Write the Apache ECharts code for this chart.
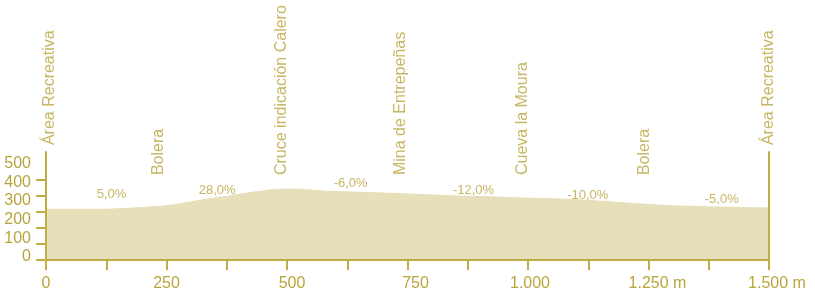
<!DOCTYPE html>
<html><head><meta charset="utf-8">
<script src="https://cdn.jsdelivr.net/npm/echarts@6/dist/echarts.min.js"></script>
<style>html,body{margin:0;padding:0;background:#fff}#c{width:815px;height:297px}</style>
</head><body><div id="c"></div>
<script>
// Profile (distance in m, elevation in m)
const distances  = [0, 104, 172, 207, 243, 276, 311, 347, 380, 415, 451, 483, 508, 575, 645, 714, 782, 853, 921, 1004, 1073, 1143, 1212, 1280, 1351, 1419, 1500];
const elevations = [314, 314, 321, 327, 335, 347, 366, 383, 397, 414, 428, 439, 440, 428, 420, 414, 405, 397, 391, 383, 377, 366, 352, 339, 331, 327, 322];

// Slope labels
const slopeLabels = ['5,0%', '28,0%', '-6,0%', '-12,0%', '-10,0%', '-5,0%'];
const slopeDist   = [136, 355, 632, 887, 1124, 1402];
const slopeElev   = [408, 434, 473, 429, 401, 378];

// Waypoints
const placeNames = ['Área Recreativa', 'Bolera', 'Cruce indicación Calero', 'Mina de Entrepeñas', 'Cueva la Moura', 'Bolera', 'Área Recreativa'];
const placeDist  = [7, 233, 488, 735, 988, 1241, 1500];
const placeElev  = [713, 527, 527, 527, 527, 527, 713];

// Axis ticks
const xTickStep = 125;
const xLabelStep = 250;
const yTickValues = [0, 100, 200, 300, 400, 500];

const AXIS = '#c1ab45';
const TEXT = '#b9a43c';
const FILL = '#e6dfb9';
const FONT = '"Liberation Sans", Arial, Helvetica, sans-serif';

function fmtDist(v) {
  if (v >= 1000) return Math.floor(v / 1000) + '.' + String(v % 1000).padStart(3, '0');
  return String(v);
}
// small horizontal nudges for x labels (style only)
const xNudge = {0: 0, 250: 0, 500: 10, 750: 16, 1000: 4, 1250: 18, 1500: 16};
const xRich = {};
Object.keys(xNudge).forEach(k => {
  xRich['n' + k] = {color: TEXT, fontSize: 16, fontFamily: FONT, padding: [0, 0, 0, xNudge[k]]};
});

const chart = echarts.init(document.getElementById('c'), null, {renderer: 'canvas'});
chart.setOption({
  animation: false,
  grid: [
    {left: 46, right: 46, top: 152, bottom: 37},
    {left: 46, right: 46, top: 164, bottom: 40.3}
  ],
  xAxis: [
    {
      gridIndex: 0, type: 'value', min: 0, max: 1500, interval: xTickStep, z: 3,
      axisLine: {show: true, lineStyle: {color: AXIS, width: 2}},
      axisTick: {show: true, length: 10, lineStyle: {color: AXIS, width: 2}},
      splitLine: {show: false},
      axisLabel: {
        margin: 16, color: TEXT, fontSize: 16, fontFamily: FONT,
        formatter: v => {
          if (v % xLabelStep !== 0) return '';
          const t = fmtDist(v) + (v >= 1250 ? ' m' : '');
          return '{n' + v + '|' + t + '}';
        },
        rich: xRich
      }
    },
    {gridIndex: 1, type: 'value', min: 0, max: 1, show: false}
  ],
  yAxis: [
    {
      gridIndex: 0, type: 'value', min: 0, max: 670, interval: 100, z: 3,
      axisLine: {show: true, lineStyle: {color: AXIS, width: 2}},
      axisTick: {show: true, length: 10, customValues: yTickValues, lineStyle: {color: AXIS, width: 2}},
      axisLabel: {show: false},
      splitLine: {show: false}
    },
    {
      gridIndex: 0, type: 'value', min: 0, max: 670, position: 'right', z: 3,
      axisLine: {show: true, lineStyle: {color: AXIS, width: 2}},
      axisTick: {show: false}, axisLabel: {show: false}, splitLine: {show: false}
    },
    {
      gridIndex: 1, type: 'value', min: 0, max: 500, interval: 100,
      axisLine: {show: false}, axisTick: {show: false}, splitLine: {show: false},
      axisLabel: {show: true, margin: 15, color: TEXT, fontSize: 16, fontFamily: FONT}
    }
  ],
  series: [
    {
      type: 'line', xAxisIndex: 0, yAxisIndex: 0, z: 1,
      data: distances.map((d, i) => [d, elevations[i]]),
      smooth: 0.5, symbol: 'none',
      lineStyle: {width: 1.2, color: FILL}, areaStyle: {color: FILL, opacity: 1},
      silent: true
    },
    {
      type: 'scatter', xAxisIndex: 0, yAxisIndex: 0, clip: false, symbolSize: 0, z: 4,
      data: slopeDist.map((d, i) => ({value: [d, slopeElev[i]], name: slopeLabels[i]})),
      label: {show: true, position: 'inside', formatter: p => p.name, color: TEXT, fontSize: 13, fontFamily: FONT, align: 'center', verticalAlign: 'middle'},
      silent: true
    },
    {
      type: 'scatter', xAxisIndex: 0, yAxisIndex: 0, clip: false, symbolSize: 0, z: 4,
      data: placeDist.map((d, i) => ({value: [d, placeElev[i]], name: placeNames[i]})),
      label: {show: true, position: [0, 0], rotate: 90, formatter: p => p.name, color: TEXT, fontSize: 16, fontFamily: FONT, align: 'left', verticalAlign: 'middle'},
      silent: true
    }
  ]
});
</script>
</body></html>
